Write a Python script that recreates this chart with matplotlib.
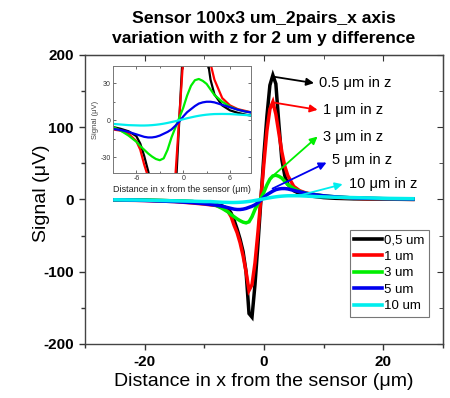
import matplotlib
matplotlib.use("Agg")
import matplotlib.pyplot as plt
from matplotlib.ticker import MultipleLocator

plt.rcParams['font.family'] = ['Liberation Sans', 'DejaVu Sans']
plt.rcParams['axes.unicode_minus'] = False

# Signal vs lateral distance for several sensor heights z
x_um = [-25, -20, -15, -12, -10, -9, -8, -7, -6, -5.5, -5, -4.5, -4, -3.5, -3,
        -2.5, -2, -1.5, -1, -0.5, 0, 0.5, 1, 1.5, 2, 2.5, 3, 3.5, 4, 5, 6, 7,
        8, 9, 10, 12, 15, 20, 25]

z_0p5 = [-0.5, -1, -2, -3, -4.5, -5.5, -7, -9, -13, -19, -29, -41, -55, -72, -100,
         -158, -163, -118, -62, 0, 62, 115, 158, 172, 160, 105, 55, 33, 21, 12, 8, 6,
         4.5, 3.5, 2.5, 1.5, 0.8, 0.3, 0]
z_1 = [-1, -1.5, -3, -5, -6.5, -7.5, -8.5, -11, -17, -24, -36, -46, -60, -78, -100,
       -126, -118, -88, -45, 2, 50, 95, 125, 135, 118, 92, 66, 46, 33, 18, 12, 9,
       7.5, 6, 4.5, 3, 1.5, 0.5, 0]
z_3 = [-0.5, -1, -2, -3, -4.5, -5.5, -8.5, -12.5, -17.5, -21, -24, -27, -29.5, -31.5, -32.5,
       -31, -24, -14, -6, 2, 10, 20, 28, 32.5, 33.5, 32, 29.5, 25, 20.5, 15, 11, 8.5,
       7, 6, 5, 3.5, 2, 1, 0.5]
z_5 = [-0.5, -1.5, -3, -4.5, -6, -7, -8, -9.5, -11.5, -12.5, -13.5, -14, -14, -13.5, -12.5,
       -11, -9.5, -7.5, -4.5, -1, 3, 6.5, 9, 11.5, 13.5, 14.5, 15, 15, 14.5, 12.5, 10.5, 8.5,
       7, 6, 5, 3.5, 2, 1, 0.5]
z_10 = [-0.5, -1, -2, -2.5, -3, -3, -3.5, -4, -4.2, -4.3, -4.3, -4.2, -4, -3.7, -3.3,
        -2.8, -2.2, -1.5, -0.8, 0, 0.8, 1.6, 2.3, 3, 3.6, 4.1, 4.5, 4.8, 5, 5.1, 5, 4.6,
        4.2, 3.8, 3.5, 3, 2.5, 1.5, 1]

series = [z_0p5, z_1, z_3, z_5, z_10]
legend_labels = ["0,5 um", "1 um", "3 um", "5 um", "10 um"]
arrow_labels = ["0.5 \u03bcm in z", "1 \u03bcm in z", "3 \u03bcm in z",
                "5 \u03bcm in z", "10 \u03bcm in z"]
colors = ["#000000", "#ff0000", "#00ee00", "#0000ee", "#00eeee"]

# arrow start points on the curves and label positions (data coords)
arrow_from = [(1.5, 170), (1.7, 134), (1.7, 34), (1.45, 15), (6.2, 6)]
arrow_to = [(8.4, 161), (9.0, 124), (9.0, 87), (10.5, 51), (13.2, 21)]
text_at = [(9.3, 161), (9.9, 124), (9.9, 87), (11.5, 55), (14.2, 21)]

fig = plt.figure(figsize=(4.5, 3.98), dpi=100)
ax = fig.add_axes([0.189, 0.136, 0.795, 0.726])

for y, c, lab in zip(series, colors, legend_labels):
    ax.plot(x_um, y, color=c, lw=2.5, label=lab, solid_joinstyle='miter')

ax.set_xlim(-30, 30)
ax.set_ylim(-200, 200)
ax.xaxis.set_major_locator(MultipleLocator(20))
ax.xaxis.set_minor_locator(MultipleLocator(10))
ax.yaxis.set_major_locator(MultipleLocator(100))
ax.yaxis.set_minor_locator(MultipleLocator(50))
ax.tick_params(which='both', direction='out', colors='#333333', width=1,
               labelcolor='black')
ax.tick_params(which='major', length=4.5, labelsize=11)
ax.tick_params(which='minor', length=3)
for lbl in ax.get_xticklabels() + ax.get_yticklabels():
    lbl.set_fontweight('bold')
for sp in ax.spines.values():
    sp.set_color('#444444')
    sp.set_linewidth(1)

# mirrored inward ticks on the top and right
top = ax.secondary_xaxis('top')
top.xaxis.set_major_locator(MultipleLocator(20))
top.xaxis.set_minor_locator(MultipleLocator(10))
top.tick_params(which='both', direction='in', labeltop=False, colors='#333333')
top.tick_params(which='major', length=4.5)
top.tick_params(which='minor', length=3)
top.spines['top'].set_color('#444444')
right = ax.secondary_yaxis('right')
right.yaxis.set_major_locator(MultipleLocator(100))
right.yaxis.set_minor_locator(MultipleLocator(50))
right.tick_params(which='both', direction='in', labelright=False, colors='#333333')
right.tick_params(which='major', length=4.5)
right.tick_params(which='minor', length=3)
right.spines['right'].set_color('#444444')

ax.set_xlabel("Distance in x from the sensor (\u03bcm)", fontsize=14, labelpad=3)
ax.set_ylabel("Signal (\u03bcV)", fontsize=14)
ax.yaxis.set_label_coords(-0.098, 0.52)
fig.text(0.586, 0.928, "Sensor 100x3 um_2pairs_x axis\nvariation with z for 2 um y difference",
         ha='center', va='center', fontsize=12.6, fontweight='bold', linespacing=1.4)

for (x0, y0), (x1, y1), (tx, ty), c, t in zip(arrow_from, arrow_to, text_at, colors, arrow_labels):
    ax.annotate("", xy=(x1, y1), xytext=(x0, y0),
                arrowprops=dict(arrowstyle='-|>', color=c, lw=1.3,
                                mutation_scale=11, shrinkA=0, shrinkB=0))
    ax.text(tx, ty, t, fontsize=10.5, ha='left', va='center', color='black')

leg = ax.legend(loc='lower right', bbox_to_anchor=(0.961, 0.093), fontsize=9.5,
                frameon=True, fancybox=False, edgecolor='#555555',
                handlelength=2.1, handletextpad=0.15, labelspacing=0.32,
                borderpad=0.35, borderaxespad=0)
leg.get_frame().set_linewidth(0.8)
for h in leg.get_lines():
    h.set_linewidth(2.6)

# zoomed view around the sensor
ins = fig.add_axes([0.251, 0.565, 0.307, 0.269])
for y, c in zip(series, colors):
    ins.plot(x_um, y, color=c, lw=1.6)
ins.set_xlim(-9, 8.7)
ins.set_ylim(-43, 44)
ins.xaxis.set_major_locator(MultipleLocator(6))
ins.xaxis.set_minor_locator(MultipleLocator(3))
ins.yaxis.set_major_locator(MultipleLocator(30))
ins.yaxis.set_minor_locator(MultipleLocator(15))
ins.tick_params(which='both', direction='in', top=True, right=True,
                labelsize=5, colors='#555555', labelcolor='#333333', pad=1.5)
ins.tick_params(which='major', length=2.5, width=0.6)
ins.tick_params(which='minor', length=1.5, width=0.6)
for sp in ins.spines.values():
    sp.set_color('#777777')
    sp.set_linewidth(0.7)
ins.set_xlabel("Distance in x from the sensor (\u03bcm)", fontsize=6.5,
               color='#222222', labelpad=2)
ins.set_ylabel("Signal (\u03bcV)", fontsize=5.5, color='#444444', labelpad=1)

fig.savefig("out.png", dpi=100)
